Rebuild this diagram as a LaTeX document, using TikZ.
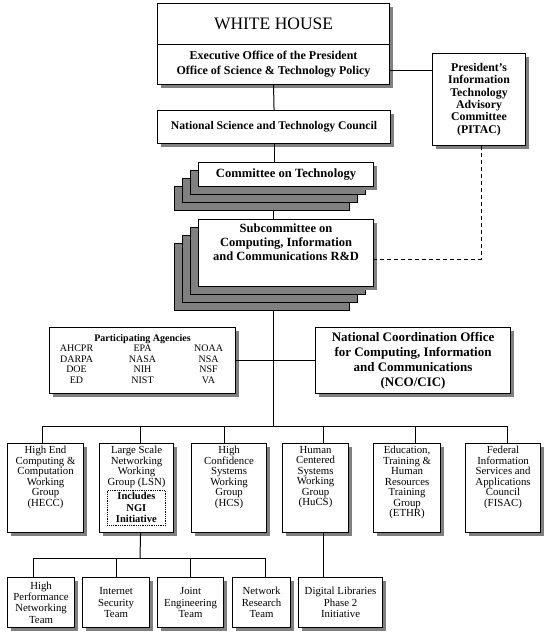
\documentclass[tikz,border=0pt]{standalone}
\usepackage{fontspec}
\setmainfont{Liberation Serif}
\usepackage{array}
\usetikzlibrary{shadows,positioning}

\begin{document}
\begin{tikzpicture}[x=1pt,y=-1pt]
\tikzset{box/.style = {draw, line width=1.1pt, fill=white, anchor=north west, inner sep=0pt, align=center,
  drop shadow={shadow xshift=3pt, shadow yshift=-3pt, fill=black!50, opacity=1}}}
\tikzset{txt/.style = {inner sep=0pt, align=center}}
\tikzset{link/.style = {line width=1pt}}
\tikzset{stack/.style = {draw=black, line width=1pt, fill=black!50}}
\tikzset{wg/.style = {box, minimum height=89pt, font=\fontsize{10.8}{10.5}\selectfont}}
\tikzset{team/.style = {box, minimum height=50pt, font=\fontsize{10.8}{11.3}\selectfont}}
\useasboundingbox (0,0) rectangle (547,633);

\node[box, minimum width=232pt, minimum height=41pt, font=\fontsize{17.5}{20}\selectfont] (wh) at (157,3) {WHITE HOUSE};
\node[box, minimum width=232pt, minimum height=40pt, font=\bfseries\fontsize{12}{15}\selectfont] (eop) at (157,44)
  {Executive Office of the President\\Office of Science \& Technology Policy};
\node[box, minimum width=93pt, minimum height=92pt, font=\bfseries\fontsize{11.8}{12.4}\selectfont] (pitac) at (432,53)
  {President's\\Information\\Technology\\Advisory\\Committee\\(PITAC)};
\node[box, minimum width=233pt, minimum height=33pt, font=\bfseries\fontsize{11.7}{12}\selectfont] (nstc) at (157,110)
  {National Science and Technology Council};

\foreach \d in {24,16,8}
  \filldraw[stack] ({198-\d},{162+\d}) rectangle +(175,24);
\node[box, minimum width=175pt, minimum height=24pt, font=\bfseries\fontsize{12.6}{14}\selectfont] (cot) at (198,162)
  {Committee on Technology};

\foreach \d in {24,16,8}
  \filldraw[stack] ({198-\d},{219+\d}) rectangle +(175,67);
\node[box, minimum width=175pt, minimum height=67pt] (sub) at (198,219) {};
\node[txt, below=5pt of sub.north, font=\bfseries\fontsize{12.5}{14}\selectfont] (subtext)
  {Subcommittee on\\Computing, Information\\and Communications R\&D};

\node[box, minimum width=175pt, minimum height=66pt, font=\fontsize{10}{10.5}\selectfont] (agen) at (49,327)
  {\textbf{Participating Agencies}\\
   \begin{tabular}{@{}*{3}{>{\centering\arraybackslash}p{54pt}}@{}}
   AHCPR & EPA & NOAA\\ DARPA & NASA & NSA\\ DOE & NIH & NSF\\ ED & NIST & VA
   \end{tabular}};
\node[box, minimum width=195pt, minimum height=66pt, font=\bfseries\fontsize{13}{15}\selectfont] (nco) at (315,327)
  {National Coordination Office\\for Computing, Information\\and Communications\\(NCO/CIC)};

\node[wg, minimum width=76pt] (hecc) at (7,443) {};
\node[wg, minimum width=74pt] (lsn) at (99,443) {};
\node[wg, minimum width=75pt] (hcs) at (191,443) {};
\node[wg, minimum width=66pt] (hucs) at (282,443) {};
\node[wg, minimum width=67pt] (ethr) at (373,443) {};
\node[wg, minimum width=75pt] (fisac) at (465,443) {};
\tikzset{wgtext/.style = {txt, font=\fontsize{10.8}{10.5}\selectfont}}
\node[wgtext, below=3pt of hecc.north] (hecctext) {High End\\Computing \&\\Computation\\Working\\Group\\(HECC)};
\node[wgtext, below=3pt of lsn.north] (lsntext) {Large Scale\\Networking\\Working\\Group (LSN)};
\node[wgtext, below=3pt of hcs.north] (hcstext) {High\\Confidence\\Systems\\Working\\Group\\(HCS)};
\node[wgtext, below=3pt of hucs.north] (hucstext) {Human\\Centered\\Systems\\Working\\Group\\(HuCS)};
\node[wgtext, below=3pt of ethr.north] (ethrtext) {Education,\\Training \&\\Human\\Resources\\Training\\Group\\(ETHR)};
\node[wgtext, below=3pt of fisac.north] (fisactext) {Federal\\Information\\Services and\\Applications\\Council\\(FISAC)};
\node[draw, densely dotted, line width=0.8pt, anchor=north west, inner sep=0pt, align=center,
  minimum width=58pt, minimum height=35pt, font=\bfseries\fontsize{10.5}{11.5}\selectfont] (ngi) at (107,490)
  {Includes\\NGI\\Initiative};

\node[team, minimum width=67pt] (hpnt) at (7,577) {High\\Performance\\Networking\\Team};
\node[team, minimum width=67pt] (ist) at (82,577) {Internet\\Security\\Team};
\node[team, minimum width=66pt] (jet) at (157,577) {Joint\\Engineering\\Team};
\node[team, minimum width=58pt] (nrt) at (232,577) {Network\\Research\\Team};
\node[team, minimum width=84pt] (dl) at (298,577) {Digital Libraries\\Phase 2\\Initiative};

\coordinate (cotbase) at (273,210);
\coordinate (subbase) at (273,310);
\coordinate (hub) at (273,426);
\coordinate (lsnhub) at (140,558);

\draw[link] (eop.south) -- (nstc.north);
\draw[link] (nstc.south) -- (cot.north -| nstc.south);
\draw[link] (cotbase) -- (sub.north -| cotbase);
\draw[link] (subbase) -- (hub);
\draw[link] (agen.east) -- (nco.west);
\draw[link] ([yshift=-6pt]eop.east) -- ([yshift=-6pt]eop.east -| pitac.west);
\draw[link, dash pattern=on 4pt off 3pt] ([xshift=2pt]pitac.south) |- ([yshift=-6pt]sub.east);
\foreach \n/\dx in {hecc/-3, lsn/4, hcs/-5, hucs/8, ethr/8, fisac/4}
  \draw[link] ([xshift=\dx pt]\n.north) |- (hub);
\draw[link] ([xshift=4pt]lsn.south) -- (lsnhub);
\foreach \n/\dx in {hpnt/-8, ist/0, jet/0, nrt/4}
  \draw[link] ([xshift=\dx pt]\n.north) |- (lsnhub);
\draw[link] ([xshift=8pt]hucs.south) -- ([xshift=8pt]hucs.south |- dl.north);
\end{tikzpicture}
\end{document}
